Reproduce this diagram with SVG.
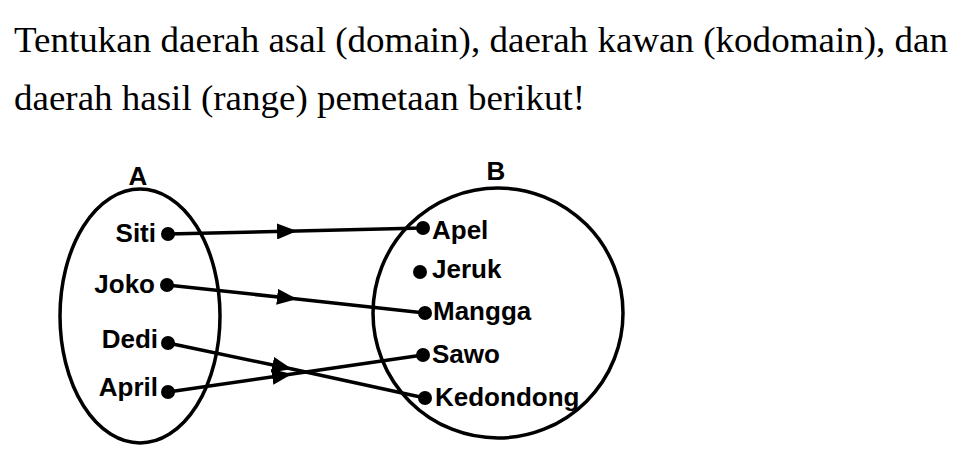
<svg xmlns="http://www.w3.org/2000/svg" width="969" height="471" viewBox="0 0 969 471">
<defs>
<style>
.title{font-size:35px;fill:#000}
.lbl{font-size:26px;font-weight:bold;fill:#000}
.set{fill:none;stroke:#000;stroke-width:3.5}
.dot{fill:#000}
.edge{fill:none;stroke:#000;stroke-width:3.5;marker-mid:url(#arr)}
</style>
<marker id="arr" markerUnits="userSpaceOnUse" markerWidth="22" markerHeight="16" refX="20" refY="8" orient="auto">
<path d="M0,0 L20,8 L0,16 z" fill="#000"/>
</marker>
</defs>
<rect width="969" height="471" fill="#fff"/>
<g font-family="Liberation Serif, Times New Roman, serif">
<text class="title" x="14" y="52" textLength="934" lengthAdjust="spacingAndGlyphs">Tentukan daerah asal (domain), daerah kawan (kodomain), dan</text>
<text class="title" x="14" y="110" textLength="571" lengthAdjust="spacingAndGlyphs">daerah hasil (range) pemetaan berikut!</text>
</g>
<g font-family="Liberation Sans, Arial, Helvetica, sans-serif">
<g id="setA">
<text class="lbl" x="138" y="185" text-anchor="middle">A</text>
<ellipse class="set" cx="140" cy="316" rx="80" ry="127"/>
</g>
<g id="setB">
<text class="lbl" x="496" y="180" text-anchor="middle">B</text>
<circle class="set" cx="498" cy="313" r="125"/>
</g>

<g id="connectors">
<path class="edge" d="M168,234 L297,231 L423,228"/>
<path class="edge" d="M167,285 L297,299 L425,313"/>
<path class="edge" d="M168,343 L292,369 L425,398"/>
<path class="edge" d="M168,392 L292,374 L423,355"/>
</g>

<g id="siti"><circle class="dot" cx="168" cy="234" r="7"/><text class="lbl" x="156" y="242" text-anchor="end">Siti</text></g>
<g id="joko"><circle class="dot" cx="167" cy="285" r="7"/><text class="lbl" x="155" y="293" text-anchor="end">Joko</text></g>
<g id="dedi"><circle class="dot" cx="168" cy="343" r="7"/><text class="lbl" x="158" y="348" text-anchor="end">Dedi</text></g>
<g id="april"><circle class="dot" cx="168" cy="392" r="7"/><text class="lbl" x="158" y="396" text-anchor="end">April</text></g>

<g id="apel"><circle class="dot" cx="423" cy="228" r="7"/><text class="lbl" x="432" y="239">Apel</text></g>
<g id="jeruk"><circle class="dot" cx="420" cy="272" r="7"/><text class="lbl" x="432" y="278">Jeruk</text></g>
<g id="mangga"><circle class="dot" cx="425" cy="313" r="7"/><text class="lbl" x="433" y="320">Mangga</text></g>
<g id="sawo"><circle class="dot" cx="423" cy="355" r="7"/><text class="lbl" x="432" y="363">Sawo</text></g>
<g id="kedondong"><circle class="dot" cx="425" cy="398" r="7"/><text class="lbl" x="435" y="406">Kedondong</text></g>
</g>
</svg>
